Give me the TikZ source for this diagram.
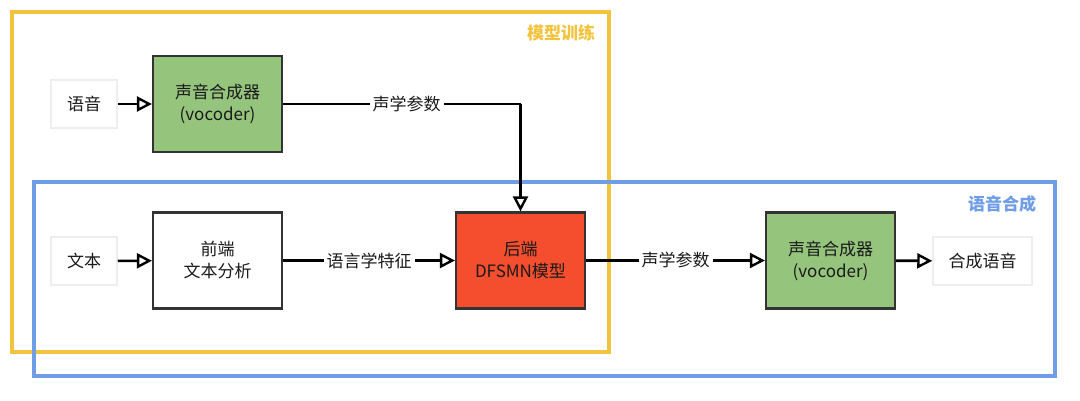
\documentclass[tikz,border=0pt]{standalone}
\usepackage{fontspec}
\setmainfont{Noto Sans CJK SC}
\usetikzlibrary{arrows.meta}
\definecolor{frameyellow}{HTML}{F2C33C}
\definecolor{frameblue}{HTML}{6F9DE6}
\definecolor{boxgreen}{HTML}{95C47D}
\definecolor{boxred}{HTML}{F54E2E}
\definecolor{boxborder}{HTML}{333333}
\definecolor{plainborder}{HTML}{EEEEEE}
\definecolor{txt}{HTML}{1A1A1A}
\begin{document}
\begin{tikzpicture}[x=1pt,y=-1pt,
  every node/.style={font=\fontsize{17}{22}\selectfont, text=txt, align=center, inner sep=0pt},
  blockbox/.style={draw=boxborder, line width=2.2pt, minimum width=129pt, minimum height=96pt},
  plainbox/.style={draw=plainborder, fill=white, line width=1.5pt, minimum height=48pt},
  lbl/.style={fill=white, inner xsep=3pt, inner ysep=2pt},
  conn/.style={line width=2.6pt, draw=black, -{Triangle[open, fill=white, length=15pt, width=15pt, line width=2.4pt]}},
  plainline/.style={line width=2.6pt, draw=black},
  frame/.style={line width=3.2pt},
  title/.style={font=\bfseries\fontsize{17}{20}\selectfont}
]
\useasboundingbox (0,0) rectangle (1080,401);
% frames
\draw[frame, draw=frameyellow] (12,12) rectangle (609,352);
\draw[frame, draw=frameblue] (34,182) rectangle (1055,376);
\node[title, text=frameyellow] (ttrain) at (561,33) {模型训练};
\node[title, text=frameblue] (tsynth) at (1002,204) {语音合成};
% row 1
\node[plainbox, minimum width=66pt] (speech) at (84,104) {语音};
\node[blockbox, fill=boxgreen] (voc1) at (217.5,104) {声音合成器\\(vocoder)};
% row 2
\node[plainbox, minimum width=66pt] (text) at (84,261) {文本};
\node[blockbox, fill=white] (front) at (217.5,260.5) {前端\\文本分析};
\node[blockbox, fill=boxred] (dfsmn) at (520.5,260.5) {后端\\DFSMN模型};
\node[blockbox, fill=boxgreen] (voc2) at (830.5,260.5) {声音合成器\\(vocoder)};
\node[plainbox, minimum width=99pt] (out) at (982.5,261) {合成语音};
\coordinate (corner) at (dfsmn.north |- voc1.east);
% connectors
\draw[conn] (speech) -- (voc1);
\draw[plainline] (voc1.east) -- node[lbl, pos=0.52] {声学参数} (corner);
\draw[conn] (corner) -- (dfsmn.north);
\draw[conn] (text) -- (front);
\draw[conn] (front) -- node[lbl] {语言学特征} (dfsmn);
\draw[conn] (dfsmn) -- node[lbl] {声学参数} (voc2);
\draw[conn] (voc2) -- (out);
\end{tikzpicture}
\end{document}
